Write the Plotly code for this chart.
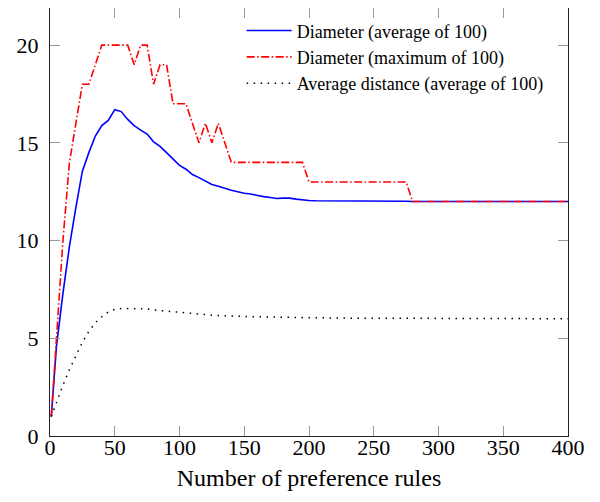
import plotly.graph_objects as go

# x positions (number of preference rules)
rules = [1] + list(range(5, 405, 5))

diam_avg = [1.0, 4.6, 7.3, 9.7, 11.7, 13.55, 14.5, 15.35, 15.88, 16.15,
            16.7, 16.6, 16.2, 15.88, 15.65, 15.45, 15.05, 14.82, 14.5, 14.15,
            13.85, 13.65, 13.38, 13.22, 13.05, 12.87, 12.78, 12.67, 12.57, 12.5,
            12.42, 12.38, 12.3, 12.25, 12.2, 12.15, 12.17, 12.17, 12.12, 12.07,
            12.05, 12.04, 12.04, 12.03, 12.03, 12.02, 12.02, 12.03, 12.03, 12.03,
            12.03, 12.02, 12.02, 12.02, 12.01, 12.01, 12.0, 12.0, 12.0, 12.0,
            12.0, 12.0, 12.0, 12.0, 12.0, 12.0, 12.0, 12.0, 12.0, 12.0,
            12.0, 12.0, 12.0, 12.0, 12.0, 12.0, 12.0, 12.0, 12.0, 12.0,
            12.0]

diam_max = [1, 5, 10, 14, 16, 18, 18, 19, 20, 20,
            20, 20, 20, 19, 20, 20, 18, 19, 19, 17,
            17, 17, 16, 15, 16, 15, 16, 15, 14, 14,
            14, 14, 14, 14, 14, 14, 14, 14, 14, 14,
            13, 13, 13, 13, 13, 13, 13, 13, 13, 13,
            13, 13, 13, 13, 13, 13, 12, 12, 12, 12,
            12, 12, 12, 12, 12, 12, 12, 12, 12, 12,
            12, 12, 12, 12, 12, 12, 12, 12, 12, 12,
            12]

dist_avg = [1.0, 1.75, 2.6, 3.4, 4.1, 4.8, 5.35, 5.8, 6.1, 6.35,
            6.48, 6.52, 6.52, 6.52, 6.5, 6.5, 6.45, 6.42, 6.38, 6.34,
            6.3, 6.28, 6.25, 6.22, 6.2, 6.18, 6.17, 6.15, 6.14, 6.13,
            6.12, 6.11, 6.1, 6.09, 6.09, 6.08, 6.07, 6.07, 6.06, 6.06,
            6.05, 6.05, 6.04, 6.04, 6.04, 6.03, 6.03, 6.03, 6.03, 6.03,
            6.03, 6.02, 6.02, 6.02, 6.02, 6.02, 6.02, 6.02, 6.02, 6.02,
            6.02, 6.01, 6.01, 6.01, 6.01, 6.01, 6.01, 6.01, 6.01, 6.01,
            6.01, 6.0, 6.0, 6.0, 6.0, 6.0, 6.0, 6.0, 6.0, 6.0,
            6.0]

names = ["Diameter (average of 100)", "Diameter (maximum of 100)",
         "Average distance (average of 100)"]

fig = go.Figure()
fig.add_trace(go.Scatter(x=rules, y=diam_avg, mode="lines", name=names[0],
                         line=dict(color="#0000ff", width=1.6)))
fig.add_trace(go.Scatter(x=rules, y=diam_max, mode="lines", name=names[1],
                         line=dict(color="#ff0000", width=1.6,
                                   dash="8px,2.5px,1.5px,2.5px")))
fig.add_trace(go.Scatter(x=rules, y=dist_avg, mode="lines", name=names[2],
                         line=dict(color="#000000", width=1.5, dash="1.5px,5.5px")))

axis_common = dict(showline=True, linecolor="#222222", linewidth=1, mirror="ticks",
                   ticks="inside", ticklen=10, tickcolor="#999999", tickwidth=1,
                   showgrid=False, zeroline=False, automargin=False,
                   tickfont=dict(family="Liberation Serif", size=22, color="black"))

fig.update_layout(
    width=592, height=494,
    margin=dict(l=42, r=32, t=0, b=66),
    plot_bgcolor="white", paper_bgcolor="white",
    font=dict(family="Liberation Serif", color="black"),
    xaxis=dict(range=[0, 400], tickvals=list(range(0, 401, 50)),
               title=dict(text="Number of preference rules",
                          font=dict(family="Liberation Serif", size=24), standoff=9),
               ticklabelstandoff=-8, **axis_common),
    yaxis=dict(range=[0, 21.9], tickvals=[0, 5, 10, 15, 20],
               ticklabelstandoff=6, **axis_common),
    legend=dict(x=0.37, y=0.99, xanchor="left", yanchor="top",
                bgcolor="rgba(0,0,0,0)", borderwidth=0,
                font=dict(family="Liberation Serif", size=18, color="black"),
                itemwidth=45, tracegroupgap=0),
    showlegend=True,
)

fig.write_html("out.html")
